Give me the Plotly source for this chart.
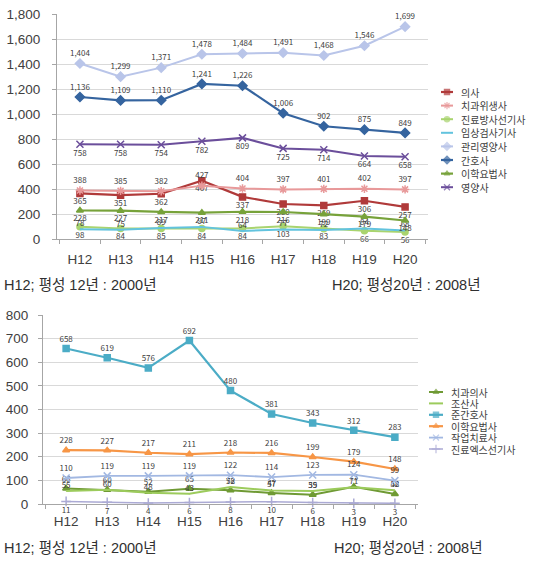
import plotly.graph_objects as go

years = ["H12", "H13", "H14", "H15", "H16", "H17", "H18", "H19", "H20"]

# Chart 1 series
doctor = [365, 351, 362, 467, 337, 280, 269, 306, 257]
dental_hyg = [388, 385, 382, 427, 404, 397, 401, 402, 397]
radiology_tech = [98, 84, 85, 84, 84, 103, 83, 66, 56]
clinical_lab = [78, 75, 89, 97, 64, 77, 72, 84, 68]
mgmt_dietitian = [1404, 1299, 1371, 1478, 1484, 1491, 1468, 1546, 1699]
nurse = [1136, 1109, 1110, 1241, 1226, 1006, 902, 875, 849]
physio = [228, 227, 217, 211, 218, 216, 199, 179, 148]
dietitian = [758, 758, 754, 782, 809, 725, 714, 664, 658]

# Chart 2 series
dentist = [66, 60, 52, 65, 58, 47, 39, 73, 42]
midwife = [55, 60, 48, 43, 72, 57, 55, 71, 58]
assistant_nurse = [658, 619, 576, 692, 480, 381, 343, 312, 283]
physio2 = [228, 227, 217, 211, 218, 216, 199, 179, 148]
occupational = [110, 119, 119, 119, 122, 114, 123, 124, 99]
xray_tech = [11, 7, 4, 6, 8, 10, 6, 3, 3]

FONT = "Noto Sans CJK KR, Malgun Gothic, sans-serif"
CAP_FONT = "Liberation Sans, Noto Sans CJK KR, sans-serif"
LBL = dict(size=8, color="#404040", family=FONT)

W, H = 540, 567

def fx(p):
    return p / W

def fy(p):
    return 1 - p / H

fig = go.Figure()

# name, values, color, symbol, label position, marker size, line width
series1 = [
    ("의사", doctor, "#B03A3A", "square", "bottom center", 6, 2.2),
    ("치과위생사", dental_hyg, "#E8999A", "asterisk-open", "top center", 7, 2.0),
    ("진료방사선기사", radiology_tech, "#A9D46F", "circle", "bottom center", 6, 2.0),
    ("임상검사기사", clinical_lab, "#62C3DE", "circle", "top center", 0, 2.0),
    ("관리영양사", mgmt_dietitian, "#B9C5E9", "diamond", "top center", 7, 2.0),
    ("간호사", nurse, "#35649F", "diamond", "top center", 7, 2.2),
    ("이학요법사", physio, "#77A23A", "triangle-up", "bottom center", 6, 2.2),
    ("영양사", dietitian, "#6B4E9B", "x-thin-open", "bottom center", 7, 2.0),
]
series2 = [
    ("치과의사", dentist, "#6F9A34", "triangle-up", "top center", 6, 2.0),
    ("조산사", midwife, "#9CCB5C", "circle", "top center", 0, 2.0),
    ("준간호사", assistant_nurse, "#4BACC6", "square", "top center", 6, 2.2),
    ("이학요법사", physio2, "#F79646", "triangle-up", "top center", 6, 2.2),
    ("작업치료사", occupational, "#A2B8E2", "x-thin-open", "top center", 7, 1.8),
    ("진료엑스선기사", xray_tech, "#ABAAD4", "cross-thin-open", "bottom center", 7, 1.5),
]

def add(s, xa, ya):
    name, y, color, symbol, pos, ms, lw = s
    fig.add_trace(go.Scatter(
        x=years, y=y, name=name, mode="lines+markers+text",
        line=dict(color=color, width=lw),
        marker=dict(symbol=symbol, size=max(ms, 0.1), color=color, line=dict(color=color, width=1.5)),
        texttemplate="%{y:,}", textposition=pos, textfont=LBL,
        xaxis=xa, yaxis=ya, showlegend=False, cliponaxis=False))

for s in series1:
    add(s, "x", "y")
for s in series2:
    add(s, "x2", "y2")

# Manual legends (swatches on a hidden pixel-scaled overlay axis)
annotations = []
def legend(series, x0, x1, xt, ytop, step):
    for i, s in enumerate(series):
        name, _, color, symbol, _, ms, lw = s
        yy = ytop + step * i
        fig.add_trace(go.Scatter(
            x=[x0, (x0 + x1) / 2, x1], y=[yy] * 3, mode="lines+markers",
            line=dict(color=color, width=lw),
            marker=dict(symbol=symbol, size=[0, ms * 0.85, 0], color=color, line=dict(color=color, width=1.3)),
            xaxis="x3", yaxis="y3", showlegend=False, hoverinfo="skip"))
        annotations.append(dict(text=name, x=fx(xt), y=fy(yy), xref="paper", yref="paper",
                                xanchor="left", yanchor="middle", showarrow=False,
                                font=dict(size=10, color="#404040", family=FONT)))

legend(series1, 441, 453, 459, 92, 13.6)
legend(series2, 429, 443, 449, 392, 11.4)

axis_common = dict(showline=True, linecolor="#A6A6A6", linewidth=1, ticks="outside",
                   tickcolor="#A6A6A6", ticklen=4, zeroline=False, automargin=False)

for txt, x, y in [("H12; 평성 12년 : 2000년", 2, 285), ("H20; 평성20년 : 2008년", 330, 285),
                  ("H12; 평성 12년 : 2000년", 2, 548), ("H20; 평성20년 : 2008년", 332, 548)]:
    annotations.append(dict(text=txt, x=fx(x), y=fy(y), xref="paper", yref="paper",
                            xanchor="left", yanchor="middle", showarrow=False,
                            font=dict(size=14.5, color="#303030", family=CAP_FONT)))

fig.update_layout(
    width=W, height=H, margin=dict(l=0, r=0, t=0, b=0, autoexpand=False),
    paper_bgcolor="white", plot_bgcolor="rgba(0,0,0,0)",
    font=dict(family=FONT, color="#404040"),
    showlegend=False, hovermode=False,
    xaxis=dict(domain=[fx(57), fx(428)], anchor="y", type="category", tickson="boundaries",
               tickfont=dict(size=13.5, color="#404040", family=CAP_FONT), showgrid=False,
               ticklabelstandoff=8, **axis_common),
    yaxis=dict(domain=[fy(239), fy(14)], anchor="x", range=[0, 1800], dtick=200,
               tickformat=",", tickfont=dict(size=13.5, color="#404040", family=CAP_FONT),
               showgrid=True, gridcolor="#D9D9D9", ticklabelstandoff=9, **axis_common),
    xaxis2=dict(domain=[fx(43), fx(418)], anchor="y2", type="category", tickson="boundaries",
                tickfont=dict(size=13.5, color="#404040", family=CAP_FONT), showgrid=False,
                ticklabelstandoff=5, **axis_common),
    yaxis2=dict(domain=[fy(504), fy(315)], anchor="x2", range=[0, 800], dtick=100,
                tickfont=dict(size=13.5, color="#404040", family=CAP_FONT),
                showgrid=True, gridcolor="#D9D9D9", ticklabelstandoff=7, **axis_common),
    xaxis3=dict(domain=[0, 1], range=[0, W], visible=False, fixedrange=True, automargin=False),
    yaxis3=dict(domain=[0, 1], range=[H, 0], visible=False, fixedrange=True, anchor="x3",
                automargin=False),
    annotations=annotations,
)

# remove the browser's default 8px page margin so the figure fills the window exactly
fig.write_html("out.html", config={"displayModeBar": False},
               post_script="document.body.style.margin='0px';")
